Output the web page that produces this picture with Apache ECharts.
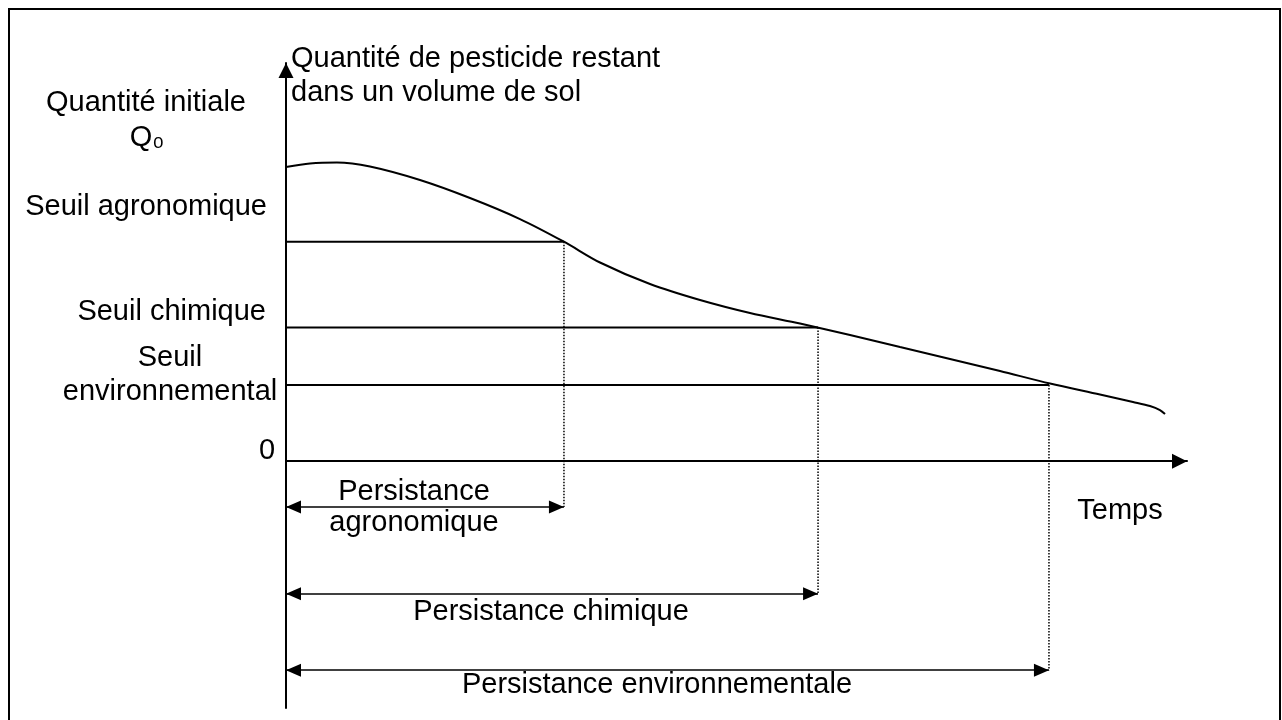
<!DOCTYPE html>
<html>
<head>
<meta charset="utf-8">
<script src="https://cdn.jsdelivr.net/npm/echarts@6/dist/echarts.min.js"></script>
<style>
  html, body { margin: 0; padding: 0; background: #fff; }
  #chart { width: 1282px; height: 720px; }
</style>
</head>
<body>
<div id="chart"></div>
<script>
// courbe : quantité de pesticide restant en fonction du temps (unités arbitraires)
const curveTime = [0, 2.66, 5.66, 9.32, 14.87, 20.42, 25.97, 30.85, 34.85, 40.4, 45.95, 51.5, 57.05, 62.6, 68.15, 73.7, 79.25, 84.8, 90.34, 94.01, 95.89, 97.0, 97.56];
const curveQty = [73.88, 74.76, 75.01, 74.0, 70.61, 66.09, 60.81, 55.11, 49.89, 44.49, 40.47, 37.2, 34.56, 31.68, 28.66, 25.65, 22.63, 19.49, 16.73, 14.85, 13.84, 12.84, 11.83];

// seuils et persistances
const thresholdLevels = [55.11, 33.56, 19.12];  // agronomique, chimique, environnemental
const persistenceTimes = [30.85, 59.05, 84.68]; // croisement courbe / seuil
const arrowLevels = [-11.5, -33.3, -52.5];      // hauteur des flèches de persistance

const FONT = "Liberation Sans, Arial, sans-serif";
const FS = 29;

const chart = echarts.init(document.getElementById("chart"));

function txt(text, x, y, align) {
  return {
    type: "text",
    silent: true,
    style: {
      text: text,
      x: x,
      y: y,
      align: align,
      verticalAlign: "middle",
      fontFamily: FONT,
      fontSize: FS,
      fill: "#000",
    },
  };
}

const series = [
  {
    name: "courbe",
    type: "line",
    data: curveTime.map((t, i) => [t, curveQty[i]]),
    smooth: 0.3,
    symbol: "none",
    lineStyle: { color: "#000", width: 2 },
    z: 3,
  },
];

thresholdLevels.forEach((level, i) => {
  const t = persistenceTimes[i];
  const a = arrowLevels[i];
  // ligne horizontale du seuil
  series.push({
    type: "line",
    data: [[0, level], [t, level]],
    symbol: "none",
    lineStyle: { color: "#000", width: 2 },
  });
  // pointillés verticaux
  series.push({
    type: "line",
    data: [[t, level], [t, a]],
    symbol: "none",
    lineStyle: { color: "#000", width: 1.5, type: [1.5, 1.5] },
  });
  // double flèche de persistance (pointes sur les extrémités)
  series.push({
    type: "line",
    data: [],
    markLine: {
      silent: true,
      symbol: ["triangle", "triangle"],
      symbolSize: [13, 15],
      symbolOffset: [[0, 7.5], [0, 7.5]],
      label: { show: false },
      lineStyle: { color: "#000", width: 1.5, type: "solid" },
      data: [[{ coord: [0, a] }, { coord: [t, a] }]],
    },
  });
});

const option = {
  animation: false,
  backgroundColor: "#fff",
  grid: { left: 286, right: 95, top: 63, bottom: 12 },
  xAxis: {
    type: "value",
    min: 0,
    max: 100,
    axisLine: {
      onZero: true,
      symbol: ["none", "triangle"],
      symbolSize: [15, 15],
      symbolOffset: [0, -7.5],
      lineStyle: { color: "#000", width: 2 },
    },
    axisTick: { show: false },
    axisLabel: { show: false },
    splitLine: { show: false },
  },
  yAxis: {
    type: "value",
    min: -62,
    max: 100,
    axisLine: {
      show: true,
      symbol: ["none", "triangle"],
      symbolSize: [15, 15],
      symbolOffset: [0, -7.5],
      lineStyle: { color: "#000", width: 2 },
    },
    axisTick: { show: false },
    axisLabel: { show: false },
    splitLine: { show: false },
  },
  graphic: [
    {
      type: "rect",
      silent: true,
      shape: { x: 9, y: 9, width: 1271, height: 720 },
      style: { fill: "none", stroke: "#000", lineWidth: 2 },
    },
    txt("Quantité de pesticide restant", 291, 59, "left"),
    txt("dans un volume de sol", 291, 93, "left"),
    txt("Quantité initiale", 146, 103, "center"),
    txt("Q₀", 147, 138, "center"),
    txt("Seuil agronomique", 267, 207, "right"),
    txt("Seuil chimique", 266, 312, "right"),
    txt("Seuil", 170, 358, "center"),
    txt("environnemental", 170, 392, "center"),
    txt("0", 267, 451, "center"),
    txt("Persistance", 414, 492, "center"),
    txt("agronomique", 414, 523, "center"),
    txt("Persistance chimique", 551, 612, "center"),
    txt("Persistance environnementale", 657, 685, "center"),
    txt("Temps", 1120, 511, "center"),
  ],
  series: series,
};

chart.setOption(option);
</script>
</body>
</html>
